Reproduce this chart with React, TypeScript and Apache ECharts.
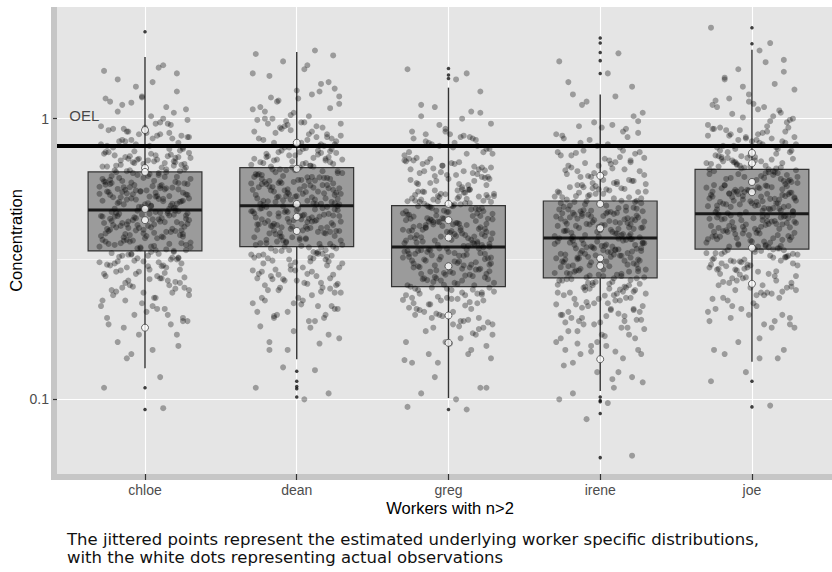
import React, { useEffect, useRef } from 'react';
import * as echarts from 'echarts';

// ---------- data ----------
const workers = ['chloe', 'dean', 'greg', 'irene', 'joe'];
const xTickValues = [1, 2, 3, 4, 5];

const yTickValues = [0.1, 1];
const yTickLabels = ['0.1', '1'];
const yMinorValues = [0.3162];
const yMin = 0.0542;
const yMax = 2.5;

// box-plot statistics (lower whisker, Q1, median, Q3, upper whisker)
const whiskerLow = [0.129, 0.139, 0.101, 0.107, 0.136];
const q1Values = [0.338, 0.35, 0.252, 0.271, 0.343];
const medianValues = [0.473, 0.49, 0.349, 0.376, 0.458];
const q3Values = [0.646, 0.669, 0.49, 0.509, 0.66];
const whiskerHigh = [1.66, 1.73, 1.29, 1.22, 1.76];

// box-plot outliers (small black dots)
const outlierValues = [
  [2.04, 0.11, 0.092],
  [0.126, 0.116, 0.111, 0.109, 0.102],
  [1.51, 1.43, 1.39, 0.092],
  [1.94, 1.86, 1.72, 1.61, 1.45, 0.102, 0.099, 0.098, 0.089, 0.062],
  [2.11, 1.85, 0.116, 0.094],
];

// actual observations (white dots)
const observationValues = [
  [0.911, 0.667, 0.646, 0.477, 0.435, 0.18],
  [0.821, 0.663, 0.497, 0.447, 0.398],
  [0.497, 0.435, 0.377, 0.298, 0.199, 0.159],
  [0.626, 0.497, 0.407, 0.318, 0.299, 0.139],
  [0.755, 0.694, 0.595, 0.547, 0.347, 0.258],
];

const oelValue = 0.8;
const oelLabel = 'OEL';
const oelLabelPos = [0.6, 1.03];

// horizontal jitter offsets (category units)
const jitterX = [
  0.12, -0.27, 0.05, 0.21, -0.09, -0.18, 0.28, -0.02, 0.15, -0.24,
  0.08, -0.13, 0.25, -0.29, 0.01, 0.18, -0.06, 0.23, -0.21, 0.1,
  -0.15, 0.03, 0.29, -0.11, 0.16, -0.26, 0.07, -0.04, 0.2, -0.19,
  0.26, -0.08, 0.13, -0.23, 0.04, 0.22, -0.16, -0.01, 0.27, -0.12,
  0.09, -0.28, 0.17, -0.05, 0.24, -0.2, 0.02, -0.1, 0.19, -0.25,
  0.14, -0.17, 0.3, -0.07, 0.06, -0.22, 0.11, -0.14, 0.22, -0.03,
  -0.3, 0.16, -0.09, 0.25, -0.18, 0.04, 0.2, -0.26, 0.1, -0.06,
  0.28, -0.12, 0.0, -0.23, 0.14, 0.07, -0.16, 0.23, -0.02, -0.27,
  0.18, -0.08, 0.12, -0.2, 0.26, -0.13, 0.03, 0.21, -0.24, 0.09,
  -0.05, 0.15, -0.29, 0.27, -0.11, 0.06, -0.19, 0.24, -0.01, 0.11,
  -0.22, 0.19, -0.07, 0.29, -0.15, 0.02, -0.25, 0.17, -0.1, 0.08,
  0.22, -0.28, 0.13, -0.04, 0.25, -0.17, 0.05, -0.21, 0.2, -0.14,
  0.1, -0.06, 0.28, -0.23, 0.01, 0.16, -0.12, 0.24, -0.3, 0.07,
  -0.09, 0.18, -0.18, 0.12, -0.26, 0.27, -0.03, 0.04, -0.15, 0.21,
  -0.2, 0.14, -0.08, 0.3, -0.11, 0.09, -0.24, 0.19, -0.05, 0.02,
  0.23, -0.27, 0.11, -0.13, 0.26, -0.01, 0.06, -0.19, 0.15, -0.22,
  0.08, -0.1, 0.29, -0.16, 0.03, 0.2, -0.28, 0.13, -0.07, 0.25,
  -0.14, 0.05, -0.25, 0.17, -0.04, 0.22, -0.12, 0.1, -0.21, 0.28,
  0.0, -0.17, 0.16, -0.29, 0.07, 0.24, -0.09, 0.12, -0.23, 0.19,
  -0.02, 0.27, -0.15, 0.04, -0.26, 0.14, -0.06, 0.21, -0.18, 0.09,
];

// estimated underlying distributions (jittered grey points)
const chloeJitter = [
  0.093, 0.11,
  0.15, 0.17, 0.145, 0.16,
  0.19, 0.22, 0.2, 0.185, 0.21, 0.225, 0.195, 0.215, 0.205,
  0.24, 0.28, 0.26, 0.235, 0.27, 0.25, 0.29, 0.245, 0.265, 0.255, 0.275, 0.23, 0.285, 0.262, 0.242, 0.272, 0.252, 0.282,
  0.3, 0.35, 0.32, 0.36, 0.31, 0.34, 0.295, 0.33, 0.37, 0.315, 0.345, 0.305, 0.355, 0.325, 0.365, 0.335, 0.302, 0.342, 0.322, 0.362, 0.312, 0.352, 0.332, 0.298, 0.368, 0.318, 0.348, 0.308, 0.358, 0.328,
  0.38, 0.45, 0.41, 0.47, 0.39, 0.43, 0.4, 0.46, 0.42, 0.375, 0.44, 0.395, 0.465, 0.415, 0.385, 0.455, 0.425, 0.405, 0.435, 0.378, 0.448, 0.412, 0.388, 0.458, 0.428, 0.398, 0.438, 0.418, 0.468, 0.382, 0.452, 0.408, 0.392, 0.462, 0.422, 0.402, 0.442, 0.432,
  0.48, 0.58, 0.52, 0.6, 0.5, 0.55, 0.49, 0.57, 0.53, 0.59, 0.51, 0.56, 0.485, 0.545, 0.505, 0.575, 0.525, 0.595, 0.495, 0.565, 0.515, 0.585, 0.535, 0.555, 0.478, 0.542, 0.508, 0.572, 0.528, 0.592, 0.498, 0.562, 0.518, 0.582, 0.538, 0.552, 0.488, 0.548,
  0.62, 0.74, 0.66, 0.7, 0.61, 0.72, 0.64, 0.76, 0.68, 0.63, 0.71, 0.65, 0.75, 0.67, 0.73, 0.69, 0.615, 0.705, 0.645, 0.735, 0.625, 0.715, 0.655, 0.755, 0.685, 0.635, 0.725, 0.675, 0.695, 0.765,
  0.78, 0.92, 0.85, 0.8, 0.95, 0.88, 0.82, 0.9, 0.97, 0.79, 0.86, 0.93, 0.83, 0.89, 0.81, 0.96, 0.87, 0.84,
  1.0, 1.15, 1.05, 1.2, 1.08, 1.12, 1.02, 1.18, 1.1,
  1.3, 1.45, 1.38, 1.52,
  1.55,
  1.48, 1.35,
  1.25, 1.14, 1.06, 0.99, 1.19,
  0.96, 0.91, 0.87, 0.83, 0.79, 0.94, 0.89, 0.85, 0.81, 0.77, 0.92, 0.88, 0.84, 0.8, 0.86, 0.9, 0.78,
  0.76, 0.74, 0.72, 0.7, 0.68, 0.66, 0.64, 0.62, 0.605, 0.75, 0.73, 0.71, 0.69, 0.67, 0.65, 0.63, 0.61, 0.745, 0.715, 0.685, 0.655, 0.625, 0.735, 0.705, 0.675, 0.645, 0.615, 0.725, 0.695,
  0.6, 0.59, 0.58, 0.57, 0.56, 0.55, 0.54, 0.53, 0.52, 0.51, 0.5, 0.49, 0.48, 0.595, 0.575, 0.555, 0.535, 0.515, 0.495, 0.585, 0.565, 0.545, 0.525, 0.505, 0.485, 0.598, 0.568, 0.538, 0.508, 0.478, 0.588, 0.558, 0.528, 0.498, 0.548, 0.518,
  0.47, 0.46, 0.45, 0.44, 0.43, 0.42, 0.41, 0.4, 0.39, 0.38, 0.465, 0.455, 0.445, 0.435, 0.425, 0.415, 0.405, 0.395, 0.385, 0.375, 0.468, 0.448, 0.428, 0.408, 0.388, 0.458, 0.438, 0.418, 0.398, 0.378, 0.462, 0.442, 0.422, 0.402, 0.382, 0.452,
  0.37, 0.36, 0.35, 0.34, 0.33, 0.32, 0.31, 0.3, 0.365, 0.355, 0.345, 0.335, 0.325, 0.315, 0.305, 0.295, 0.368, 0.348, 0.328, 0.308, 0.358, 0.338, 0.318, 0.298,
  0.29, 0.28, 0.27, 0.26, 0.25, 0.24, 0.23, 0.285, 0.265, 0.245, 0.275, 0.255, 0.235, 0.288, 0.268, 0.248,
  0.225, 0.21, 0.2, 0.19, 0.18, 0.215, 0.195, 0.185,
  0.17, 0.155, 0.14,
  0.12,
];

const deanJitter = [
  1.75, 1.7,
  1.5, 1.35, 1.6, 1.42,
  1.2, 1.05, 1.25, 1.1, 1.02, 1.15, 1.28, 1.08, 1.18,
  0.8, 0.95, 0.85, 1.0, 0.9, 0.82, 0.97, 0.87, 0.93, 0.81, 0.99, 0.84, 0.91, 0.88, 0.96, 0.83, 0.94, 0.86,
  0.63, 0.78, 0.7, 0.66, 0.74, 0.64, 0.76, 0.68, 0.72, 0.65, 0.79, 0.69, 0.73, 0.67, 0.77, 0.71, 0.635, 0.745, 0.675, 0.715, 0.655, 0.785, 0.695, 0.725, 0.645, 0.765, 0.705, 0.685, 0.755, 0.625,
  0.5, 0.6, 0.54, 0.58, 0.52, 0.62, 0.56, 0.495, 0.59, 0.53, 0.61, 0.55, 0.51, 0.57, 0.505, 0.595, 0.535, 0.615, 0.555, 0.515, 0.585, 0.545, 0.525, 0.605, 0.565, 0.498, 0.578, 0.538, 0.618, 0.558, 0.518, 0.598, 0.548, 0.508, 0.588, 0.528, 0.568, 0.492,
  0.39, 0.47, 0.43, 0.4, 0.45, 0.42, 0.48, 0.41, 0.44, 0.395, 0.46, 0.435, 0.405, 0.475, 0.415, 0.455, 0.425, 0.485, 0.388, 0.445, 0.465, 0.398, 0.438, 0.478, 0.408, 0.448, 0.418, 0.468, 0.428, 0.488, 0.392, 0.458, 0.432, 0.402, 0.472, 0.412, 0.452, 0.422,
  0.31, 0.37, 0.33, 0.35, 0.305, 0.38, 0.32, 0.36, 0.34, 0.315, 0.375, 0.325, 0.355, 0.335, 0.365, 0.345, 0.308, 0.372, 0.318, 0.358, 0.328, 0.348, 0.338, 0.368, 0.312, 0.352, 0.322, 0.378, 0.332, 0.362,
  0.24, 0.29, 0.26, 0.28, 0.25, 0.3, 0.27, 0.245, 0.285, 0.255, 0.295, 0.265, 0.275, 0.242, 0.288, 0.258, 0.278, 0.268,
  0.19, 0.23, 0.2, 0.22, 0.21, 0.195, 0.225, 0.205, 0.215,
  0.15, 0.17, 0.16, 0.18,
  0.127, 0.11, 0.1,
  0.105, 0.13,
  0.15, 0.165, 0.175, 0.158, 0.182,
  0.19, 0.2, 0.21, 0.22, 0.23, 0.195, 0.205, 0.215, 0.225, 0.235, 0.198, 0.218,
  0.24, 0.25, 0.26, 0.27, 0.28, 0.29, 0.3, 0.245, 0.255, 0.265, 0.275, 0.285, 0.295, 0.248, 0.268, 0.288, 0.258, 0.278,
  0.31, 0.32, 0.33, 0.34, 0.35, 0.36, 0.37, 0.38, 0.315, 0.325, 0.335, 0.345, 0.355, 0.365, 0.375, 0.305, 0.318, 0.338, 0.358, 0.378, 0.328, 0.348, 0.368, 0.382,
  0.39, 0.4, 0.41, 0.42, 0.43, 0.44, 0.45, 0.46, 0.47, 0.48, 0.395, 0.405, 0.415, 0.425, 0.435, 0.445, 0.455, 0.465, 0.475, 0.485, 0.398, 0.418, 0.438, 0.458, 0.478, 0.408, 0.428, 0.448, 0.468, 0.488, 0.392, 0.412, 0.432, 0.452,
  0.49, 0.5, 0.51, 0.52, 0.53, 0.54, 0.55, 0.56, 0.57, 0.58, 0.59, 0.6, 0.61, 0.62, 0.495, 0.515, 0.535, 0.555, 0.575, 0.595, 0.615, 0.505, 0.525, 0.545, 0.565, 0.585, 0.605, 0.498, 0.528, 0.558, 0.588, 0.618, 0.512, 0.542, 0.572, 0.602,
  0.63, 0.65, 0.67, 0.69, 0.71, 0.73, 0.75, 0.77, 0.79, 0.64, 0.66, 0.68, 0.7, 0.72, 0.74, 0.76, 0.78, 0.635, 0.675, 0.715, 0.755, 0.655, 0.695, 0.735,
  0.8, 0.84, 0.88, 0.92, 0.96, 1.0, 0.82, 0.86, 0.9, 0.94, 0.98, 0.81, 0.89, 0.97, 0.85, 0.93,
  1.03, 1.09, 1.16, 1.22, 1.06, 1.13, 1.26, 1.19,
  1.33, 1.45, 1.55,
  1.68,
];

const gregJitter = [
  0.092, 0.094,
  0.1, 0.11, 0.12, 0.105,
  0.14, 0.16, 0.15, 0.135, 0.165, 0.145, 0.155, 0.138, 0.158,
  0.17, 0.2, 0.18, 0.21, 0.19, 0.175, 0.205, 0.185, 0.195, 0.172, 0.212, 0.182, 0.198, 0.178, 0.208, 0.188, 0.202, 0.192,
  0.22, 0.26, 0.24, 0.27, 0.23, 0.25, 0.218, 0.265, 0.235, 0.255, 0.225, 0.272, 0.245, 0.228, 0.262, 0.238, 0.252, 0.222, 0.268, 0.242, 0.232, 0.258, 0.248, 0.216, 0.266, 0.236, 0.256, 0.226, 0.246, 0.273,
  0.28, 0.34, 0.31, 0.29, 0.33, 0.3, 0.345, 0.32, 0.285, 0.335, 0.305, 0.295, 0.325, 0.315, 0.348, 0.278, 0.338, 0.308, 0.288, 0.328, 0.298, 0.318, 0.342, 0.282, 0.332, 0.312, 0.292, 0.322, 0.302, 0.336, 0.286, 0.326, 0.306, 0.296, 0.316, 0.344, 0.276, 0.33,
  0.36, 0.43, 0.39, 0.41, 0.37, 0.44, 0.38, 0.42, 0.4, 0.355, 0.435, 0.375, 0.415, 0.395, 0.365, 0.425, 0.385, 0.405, 0.442, 0.352, 0.428, 0.372, 0.412, 0.392, 0.362, 0.438, 0.382, 0.402, 0.422, 0.368, 0.432, 0.378, 0.418, 0.398, 0.358, 0.44, 0.388, 0.408,
  0.45, 0.55, 0.5, 0.47, 0.53, 0.48, 0.56, 0.52, 0.46, 0.54, 0.49, 0.51, 0.455, 0.545, 0.485, 0.525, 0.465, 0.555, 0.505, 0.475, 0.535, 0.495, 0.515, 0.458, 0.548, 0.488, 0.528, 0.468, 0.558, 0.508,
  0.58, 0.7, 0.63, 0.66, 0.6, 0.68, 0.62, 0.72, 0.65, 0.59, 0.67, 0.61, 0.69, 0.64, 0.71, 0.585, 0.655, 0.625,
  0.75, 0.85, 0.8, 0.9, 0.78, 0.88, 0.82, 0.76, 0.86,
  0.95, 1.05, 1.12, 1.0,
  1.45, 1.5,
  1.38, 1.25,
  1.1, 1.02, 0.96, 0.92, 1.06,
  0.9, 0.86, 0.82, 0.78, 0.74, 0.88, 0.84, 0.8, 0.76, 0.725, 0.87, 0.83, 0.79, 0.75, 0.81, 0.85,
  0.72, 0.7, 0.68, 0.66, 0.64, 0.62, 0.6, 0.58, 0.71, 0.69, 0.67, 0.65, 0.63, 0.61, 0.59, 0.57, 0.705, 0.675, 0.645, 0.615, 0.585, 0.695, 0.665, 0.635, 0.605,
  0.56, 0.55, 0.54, 0.53, 0.52, 0.51, 0.5, 0.49, 0.48, 0.47, 0.46, 0.45, 0.555, 0.535, 0.515, 0.495, 0.475, 0.455, 0.545, 0.525, 0.505, 0.485, 0.465, 0.448, 0.558, 0.528, 0.498, 0.468, 0.538, 0.508, 0.478, 0.452, 0.518, 0.488,
  0.44, 0.43, 0.42, 0.41, 0.4, 0.39, 0.38, 0.37, 0.36, 0.35, 0.435, 0.425, 0.415, 0.405, 0.395, 0.385, 0.375, 0.365, 0.355, 0.438, 0.418, 0.398, 0.378, 0.358, 0.428, 0.408, 0.388, 0.368, 0.352, 0.442, 0.422, 0.402, 0.382, 0.362,
  0.345, 0.335, 0.325, 0.315, 0.305, 0.295, 0.285, 0.275, 0.34, 0.33, 0.32, 0.31, 0.3, 0.29, 0.28, 0.342, 0.322, 0.302, 0.282, 0.332, 0.312, 0.292, 0.338, 0.278,
  0.27, 0.26, 0.25, 0.24, 0.23, 0.22, 0.265, 0.245, 0.225, 0.255, 0.235, 0.218, 0.268, 0.248, 0.228, 0.238,
  0.21, 0.2, 0.19, 0.18, 0.17, 0.205, 0.185, 0.195,
  0.16, 0.145, 0.135,
  0.11,
];

const ireneJitter = [
  1.71, 1.6, 1.45,
  1.3, 1.15, 1.22, 1.05,
  0.8, 0.9, 0.85, 0.95, 0.82, 0.98, 0.88, 0.93, 0.86,
  0.62, 0.75, 0.68, 0.7, 0.65, 0.72, 0.63, 0.77, 0.66, 0.74, 0.69, 0.64, 0.71, 0.67, 0.76, 0.625, 0.73, 0.655,
  0.49, 0.6, 0.53, 0.56, 0.5, 0.58, 0.52, 0.55, 0.485, 0.59, 0.51, 0.57, 0.54, 0.495, 0.605, 0.525, 0.565, 0.505, 0.585, 0.535, 0.555, 0.515, 0.595, 0.545, 0.482, 0.575, 0.528, 0.562, 0.508, 0.548,
  0.38, 0.46, 0.42, 0.44, 0.39, 0.47, 0.41, 0.45, 0.4, 0.43, 0.385, 0.465, 0.415, 0.435, 0.395, 0.475, 0.425, 0.455, 0.405, 0.445, 0.378, 0.468, 0.418, 0.438, 0.398, 0.458, 0.428, 0.388, 0.448, 0.408, 0.472, 0.432, 0.392, 0.452, 0.412, 0.462, 0.422, 0.382,
  0.3, 0.36, 0.32, 0.34, 0.31, 0.37, 0.33, 0.35, 0.305, 0.365, 0.325, 0.345, 0.315, 0.355, 0.335, 0.298, 0.372, 0.318, 0.342, 0.308, 0.362, 0.328, 0.352, 0.312, 0.338, 0.302, 0.358, 0.322, 0.348, 0.332, 0.368, 0.374, 0.296, 0.346, 0.326, 0.356, 0.316, 0.336,
  0.24, 0.28, 0.26, 0.29, 0.25, 0.27, 0.235, 0.285, 0.255, 0.275, 0.245, 0.265, 0.238, 0.292, 0.258, 0.278, 0.248, 0.268, 0.242, 0.282, 0.262, 0.252, 0.272, 0.288, 0.234, 0.266, 0.256, 0.246, 0.276, 0.286,
  0.19, 0.22, 0.2, 0.23, 0.185, 0.21, 0.195, 0.225, 0.205, 0.215, 0.188, 0.228, 0.198, 0.218, 0.208, 0.192, 0.222, 0.202,
  0.15, 0.17, 0.16, 0.145, 0.175, 0.155, 0.165, 0.18, 0.148,
  0.12, 0.135, 0.11, 0.125,
  0.1, 0.097, 0.063,
  0.085, 0.105,
  0.115, 0.125, 0.14, 0.132, 0.118,
  0.145, 0.15, 0.16, 0.17, 0.18, 0.155, 0.165, 0.175, 0.148, 0.158, 0.168, 0.178,
  0.185, 0.19, 0.2, 0.21, 0.22, 0.23, 0.195, 0.205, 0.215, 0.225, 0.188, 0.198, 0.208, 0.218, 0.228, 0.192, 0.212,
  0.235, 0.24, 0.25, 0.26, 0.27, 0.28, 0.29, 0.245, 0.255, 0.265, 0.275, 0.285, 0.238, 0.248, 0.258, 0.268, 0.278, 0.288, 0.242, 0.262, 0.282, 0.252, 0.272, 0.292,
  0.3, 0.31, 0.32, 0.33, 0.34, 0.35, 0.36, 0.37, 0.305, 0.315, 0.325, 0.335, 0.345, 0.355, 0.365, 0.375, 0.302, 0.322, 0.342, 0.362, 0.312, 0.332, 0.352, 0.372, 0.308, 0.328, 0.348, 0.368, 0.318, 0.338, 0.358, 0.298, 0.374, 0.344,
  0.38, 0.39, 0.4, 0.41, 0.42, 0.43, 0.44, 0.45, 0.46, 0.47, 0.385, 0.395, 0.405, 0.415, 0.425, 0.435, 0.445, 0.455, 0.465, 0.475, 0.388, 0.408, 0.428, 0.448, 0.468, 0.398, 0.418, 0.438, 0.458, 0.478, 0.382, 0.402, 0.422, 0.442, 0.462,
  0.48, 0.5, 0.52, 0.54, 0.56, 0.58, 0.6, 0.49, 0.51, 0.53, 0.55, 0.57, 0.59, 0.485, 0.525, 0.565, 0.605, 0.505, 0.545, 0.585,
  0.62, 0.65, 0.68, 0.71, 0.74, 0.77, 0.635, 0.665, 0.695, 0.725, 0.755, 0.64, 0.7, 0.76,
  0.79, 0.84, 0.89, 0.94, 0.81, 0.87, 0.92, 0.97,
  1.02, 1.12, 1.2,
  1.35,
];

const joeJitter = [
  0.095, 0.116,
  0.14, 0.15, 0.16, 0.145,
  0.18, 0.2, 0.19, 0.21, 0.185, 0.215, 0.195, 0.205, 0.22,
  0.23, 0.27, 0.25, 0.28, 0.24, 0.26, 0.235, 0.275, 0.245, 0.265, 0.228, 0.255, 0.272, 0.242, 0.262, 0.252, 0.278, 0.238,
  0.29, 0.35, 0.32, 0.34, 0.3, 0.33, 0.31, 0.355, 0.295, 0.345, 0.315, 0.325, 0.305, 0.335, 0.288, 0.352, 0.318, 0.342, 0.298, 0.328, 0.308, 0.338, 0.292, 0.348, 0.312, 0.322, 0.302, 0.332, 0.286, 0.358,
  0.37, 0.44, 0.4, 0.42, 0.38, 0.45, 0.39, 0.43, 0.41, 0.365, 0.445, 0.375, 0.435, 0.395, 0.425, 0.385, 0.415, 0.405, 0.455, 0.362, 0.438, 0.378, 0.428, 0.392, 0.448, 0.382, 0.418, 0.402, 0.432, 0.372, 0.452, 0.388, 0.412, 0.398, 0.442, 0.368, 0.422, 0.408,
  0.47, 0.56, 0.51, 0.54, 0.49, 0.58, 0.5, 0.55, 0.48, 0.53, 0.52, 0.57, 0.465, 0.545, 0.495, 0.565, 0.505, 0.535, 0.485, 0.575, 0.515, 0.525, 0.475, 0.555, 0.498, 0.548, 0.488, 0.568, 0.508, 0.538, 0.478, 0.578, 0.518, 0.528, 0.468, 0.558, 0.492, 0.542,
  0.6, 0.72, 0.65, 0.68, 0.62, 0.7, 0.64, 0.74, 0.61, 0.67, 0.73, 0.63, 0.69, 0.66, 0.71, 0.595, 0.675, 0.625, 0.705, 0.645, 0.735, 0.615, 0.685, 0.655, 0.725, 0.605, 0.695, 0.635, 0.715, 0.665,
  0.76, 0.88, 0.82, 0.92, 0.78, 0.85, 0.9, 0.8, 0.94, 0.77, 0.86, 0.83, 0.91, 0.79, 0.87, 0.81, 0.93, 0.84,
  0.98, 1.1, 1.05, 1.15, 1.0, 1.18, 1.08, 1.12, 1.02,
  1.3, 1.47, 1.4,
  1.59, 1.86, 2.11,
  1.75, 1.62, 1.5,
  1.38, 1.27, 1.22, 1.33,
  1.16, 1.1, 1.04, 0.99, 0.95, 1.13, 1.07, 1.01, 0.97,
  0.93, 0.9, 0.87, 0.84, 0.81, 0.78, 0.75, 0.92, 0.89, 0.86, 0.83, 0.8, 0.77, 0.91, 0.85, 0.79, 0.88, 0.82, 0.76,
  0.74, 0.72, 0.7, 0.68, 0.66, 0.64, 0.62, 0.6, 0.73, 0.71, 0.69, 0.67, 0.65, 0.63, 0.61, 0.59, 0.735, 0.705, 0.675, 0.645, 0.615, 0.585, 0.725, 0.695, 0.665, 0.635, 0.605,
  0.58, 0.57, 0.56, 0.55, 0.54, 0.53, 0.52, 0.51, 0.5, 0.49, 0.48, 0.47, 0.46, 0.575, 0.555, 0.535, 0.515, 0.495, 0.475, 0.565, 0.545, 0.525, 0.505, 0.485, 0.465, 0.578, 0.548, 0.518, 0.488, 0.468, 0.558, 0.528, 0.498, 0.538, 0.508, 0.478,
  0.455, 0.445, 0.435, 0.425, 0.415, 0.405, 0.395, 0.385, 0.375, 0.365, 0.45, 0.44, 0.43, 0.42, 0.41, 0.4, 0.39, 0.38, 0.37, 0.452, 0.432, 0.412, 0.392, 0.372, 0.442, 0.422, 0.402, 0.382, 0.362, 0.448,
  0.355, 0.345, 0.335, 0.325, 0.315, 0.305, 0.295, 0.285, 0.35, 0.34, 0.33, 0.32, 0.31, 0.3, 0.29, 0.352, 0.332, 0.312, 0.292, 0.342, 0.322, 0.302,
  0.28, 0.27, 0.26, 0.25, 0.24, 0.23, 0.275, 0.255, 0.235, 0.265, 0.245, 0.225,
  0.215, 0.2, 0.19, 0.18, 0.21, 0.185, 0.195,
  0.165, 0.15, 0.14,
  0.125,
];

const jitterValues = [chloeJitter, deanJitter, gregJitter, ireneJitter, joeJitter];

const xTitle = 'Workers with n>2';
const yTitle = 'Concentration';
const captionLines = [
  'The jittered points represent the estimated underlying worker specific distributions,',
  'with the white dots representing actual observations',
];

// ---------- chart ----------
const FONT = '"Liberation Sans", Arial, Helvetica, sans-serif';

export default function App() {
  const ref = useRef<HTMLDivElement>(null);

  useEffect(() => {
    if (!ref.current) return;
    const chart = echarts.init(ref.current, null, { renderer: 'svg', width: 832, height: 572 });

    const boxData = workers.map((_, i) => [
      xTickValues[i], whiskerLow[i], q1Values[i], medianValues[i], q3Values[i], whiskerHigh[i],
    ]);

    const jitterData: number[][] = [];
    jitterValues.forEach((vals, i) => {
      vals.forEach((v, j) => {
        jitterData.push([xTickValues[i] + jitterX[j % jitterX.length], v]);
      });
    });

    const outlierData: number[][] = [];
    outlierValues.forEach((vals, i) => vals.forEach((v) => outlierData.push([xTickValues[i], v])));

    const obsData: number[][] = [];
    observationValues.forEach((vals, i) => vals.forEach((v) => obsData.push([xTickValues[i], v])));

    const boxWidth = 0.75;

    const option: any = {
      animation: false,
      backgroundColor: '#ffffff',
      textStyle: { fontFamily: FONT },
      grid: {
        left: 57,
        top: 7,
        right: -11,
        bottom: 98,
        containLabel: false,
        outerBoundsMode: 'none',
        show: true,
        backgroundColor: '#e5e5e5',
        borderWidth: 0,
      },
      graphic: [
        {
          type: 'rect',
          z: -5,
          silent: true,
          shape: { x: 51, y: 7, width: 800, height: 473 },
          style: { fill: '#c6c6c6' },
        },
        {
          type: 'text',
          left: 67,
          top: 531,
          silent: true,
          style: {
            text: captionLines.join('\n'),
            font: '16.5px "DejaVu Sans", Verdana, sans-serif',
            fill: '#111111',
            lineHeight: 17.5,
          },
        },
      ],
      xAxis: {
        type: 'value',
        min: 0.42,
        max: 5.6,
        name: xTitle,
        nameLocation: 'middle',
        nameGap: 25,
        nameMoveOverlap: false,
        nameTextStyle: { fontSize: 16.5, color: '#000000', fontFamily: FONT },
        axisLine: { show: false },
        axisTick: {
          show: true,
          customValues: xTickValues,
          length: 6,
          lineStyle: { color: '#333333', width: 1.2 },
        },
        axisLabel: {
          customValues: xTickValues,
          formatter: (v: number) => workers[Math.round(v) - 1] ?? '',
          fontSize: 14,
          color: '#4d4d4d',
          margin: 9,
          fontFamily: FONT,
        },
        splitLine: { show: true, lineStyle: { color: '#ffffff', width: 1.1 } },
      },
      yAxis: [
        {
          type: 'log',
          logBase: 10,
          min: yMin,
          max: yMax,
          name: yTitle,
          nameLocation: 'middle',
          nameGap: 33,
          nameMoveOverlap: false,
          nameTextStyle: { fontSize: 16.5, color: '#000000', fontFamily: FONT },
          axisLine: { show: false },
          axisTick: {
            show: true,
            customValues: yTickValues,
            length: 4,
            lineStyle: { color: '#333333', width: 1.2 },
          },
          axisLabel: {
            customValues: yTickValues,
            formatter: (v: number) => {
              const idx = yTickValues.findIndex((t) => Math.abs(t - v) / t < 1e-6);
              return idx >= 0 ? yTickLabels[idx] : '';
            },
            fontSize: 14,
            color: '#4d4d4d',
            margin: 8,
            fontFamily: FONT,
          },
          splitLine: { show: true, lineStyle: { color: '#ffffff', width: 1.1 } },
        },
        {
          type: 'log',
          logBase: 10,
          min: yMin,
          max: yMax,
          position: 'left',
          axisLine: { show: false },
          axisTick: { show: false, customValues: yMinorValues },
          axisLabel: { show: false, customValues: yMinorValues },
          splitLine: { show: true, lineStyle: { color: '#ffffff', width: 0.6 } },
        },
      ],
      series: [
        {
          type: 'custom',
          name: 'box',
          z: 2,
          silent: true,
          encode: { x: 0, y: [1, 2, 3, 4, 5] },
          data: boxData,
          renderItem: (params: any, api: any) => {
            const x = api.value(0);
            const lo = api.coord([x, api.value(1)]);
            const q1 = api.coord([x, api.value(2)]);
            const md = api.coord([x, api.value(3)]);
            const q3 = api.coord([x, api.value(4)]);
            const hi = api.coord([x, api.value(5)]);
            const w = api.size([boxWidth, 0], [x, 1])[0];
            const cx = lo[0];
            const stroke = '#333333';
            return {
              type: 'group',
              children: [
                {
                  type: 'line',
                  shape: { x1: cx, y1: q3[1], x2: cx, y2: hi[1] },
                  style: { stroke, lineWidth: 1.4 },
                },
                {
                  type: 'line',
                  shape: { x1: cx, y1: q1[1], x2: cx, y2: lo[1] },
                  style: { stroke, lineWidth: 1.4 },
                },
                {
                  type: 'rect',
                  shape: { x: cx - w / 2, y: q3[1], width: w, height: q1[1] - q3[1] },
                  style: { fill: '#9b9b9b', stroke, lineWidth: 1.2 },
                },
                {
                  type: 'line',
                  shape: { x1: cx - w / 2, y1: md[1], x2: cx + w / 2, y2: md[1] },
                  style: { stroke: '#1a1a1a', lineWidth: 3 },
                },
              ],
            };
          },
        },
        {
          type: 'scatter',
          name: 'outliers',
          z: 3,
          silent: true,
          symbolSize: 3.5,
          itemStyle: { color: '#111111' },
          data: outlierData,
        },
        {
          type: 'scatter',
          name: 'estimated',
          z: 4,
          silent: true,
          symbolSize: 6,
          itemStyle: { color: 'rgba(0,0,0,0.4)' },
          data: jitterData,
        },
        {
          type: 'scatter',
          name: 'observations',
          z: 5,
          silent: true,
          symbolSize: 7,
          itemStyle: { color: '#ffffff', borderColor: '#333333', borderWidth: 0.9 },
          data: obsData,
        },
        {
          type: 'scatter',
          name: 'OEL',
          z: 6,
          silent: true,
          symbolSize: 1,
          itemStyle: { color: 'rgba(0,0,0,0)' },
          label: {
            show: true,
            position: 'inside',
            formatter: oelLabel,
            fontSize: 15,
            color: '#1a1a1a',
            fontFamily: FONT,
          },
          data: [oelLabelPos],
          markLine: {
            silent: true,
            symbol: 'none',
            label: { show: false },
            lineStyle: { color: '#000000', width: 4, type: 'solid' },
            data: [{ yAxis: oelValue }],
          },
        },
      ],
    };

    chart.setOption(option);
    return () => chart.dispose();
  }, []);

  return (
    <div
      ref={ref}
      style={{ position: 'absolute', left: 0, top: 0, width: 832, height: 572, background: '#ffffff' }}
    />
  );
}
